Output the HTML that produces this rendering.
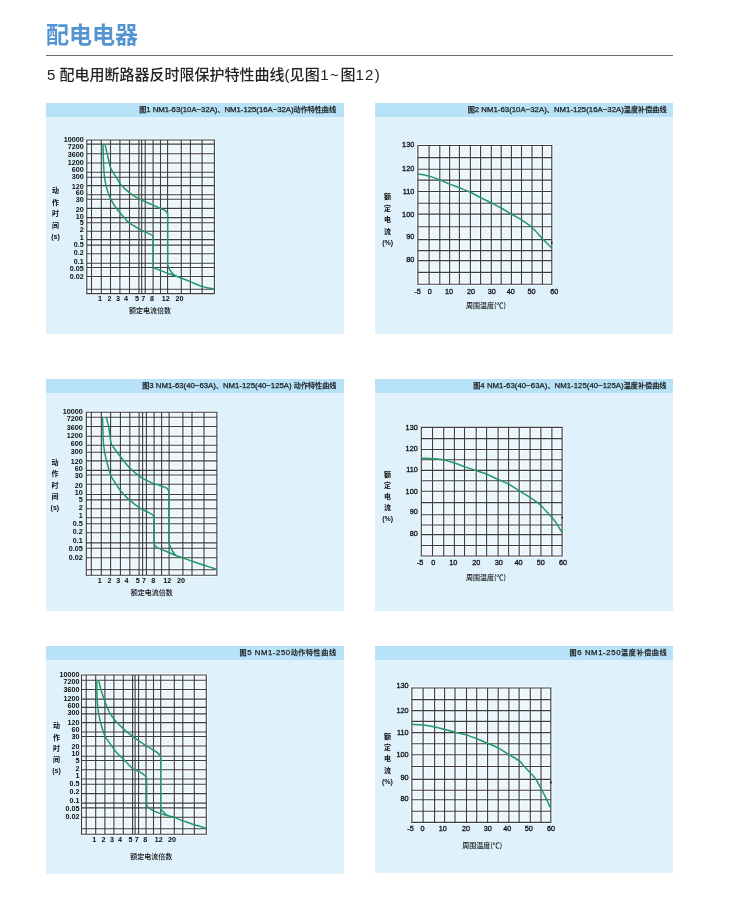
<!DOCTYPE html>
<html lang="zh-CN"><head><meta charset="utf-8"><title>配电电器</title>
<style>
html,body{margin:0;padding:0;background:#fff;}
body{width:750px;height:920px;position:relative;overflow:hidden;font-family:"Liberation Sans","Noto Sans CJK SC",sans-serif;}
.t{position:absolute;white-space:nowrap;line-height:1;}
.pn{position:absolute;background:#dff1fb;}
.hd{position:absolute;left:0;top:0;width:100%;height:14px;background:#b8e2f8;}
.hd i{font-style:normal;font-size:7.1px;}
.hd span{position:absolute;right:8px;top:0;line-height:14px;font-size:7.8px;font-weight:normal;color:#1a1a1a;-webkit-text-stroke:0.25px #1a1a1a;white-space:nowrap;font-family:"Liberation Sans","Noto Sans CJK SC",sans-serif;}
h1{position:absolute;left:46px;top:20px;margin:0;font-size:23px;line-height:30px;font-weight:bold;color:#5394d1;font-family:"Liberation Sans","Noto Sans CJK SC",sans-serif;letter-spacing:0px;}
.rule{position:absolute;left:46px;top:54.7px;width:627px;height:1.6px;background:#6a6a6a;}
.sub{position:absolute;left:47px;top:65px;font-size:15px;line-height:20px;color:#222;font-weight:500;font-family:"Liberation Sans","Noto Sans CJK SC",sans-serif;white-space:nowrap;}
svg{position:absolute;left:0;top:0;}
</style></head><body>
<h1>配电电器</h1>
<div class="rule"></div>
<div class="sub">5 配电用断路器反时限保护特性曲线(<span style="letter-spacing:0.3px">见图</span><span style="letter-spacing:1.6px">1~</span>图<span style="letter-spacing:1.3px">12</span>)</div>

<div class="pn" style="left:46px;top:103px;width:298px;height:231px"><div class="hd"><span style="right:8.03px;letter-spacing:-0.03px"><i>图</i>1 NM1-63(10A−32A)<i>、</i>NM1-125(16A−32A)<i>动作特性曲线</i></span></div></div>
<div class="pn" style="left:375px;top:103px;width:298px;height:231px"><div class="hd"><span style="right:6.48px;letter-spacing:0.02px"><i>图</i>2 NM1-63(10A−32A)<i>、</i>NM1-125(16A−32A)<i>温度补偿曲线</i></span></div></div>
<div class="pn" style="left:46px;top:379px;width:298px;height:232px"><div class="hd"><span style="right:7.6px;letter-spacing:0px"><i>图</i>3 NM1-63(40−63A)<i>、</i>NM1-125(40−125A) <i>动作特性曲线</i></span></div></div>
<div class="pn" style="left:375px;top:379px;width:298px;height:232px"><div class="hd"><span style="right:6.57px;letter-spacing:0.03px"><i>图</i>4 NM1-63(40−63A)<i>、</i>NM1-125(40−125A)<i>温度补偿曲线</i></span></div></div>
<div class="pn" style="left:46px;top:646px;width:298px;height:228px"><div class="hd"><span style="right:7.45px;letter-spacing:0.55px"><i>图</i>5 NM1-250<i>动作特性曲线</i></span></div></div>
<div class="pn" style="left:375px;top:646px;width:298px;height:227px"><div class="hd"><span style="right:5.81px;letter-spacing:0.59px"><i>图</i>6 NM1-250<i>温度补偿曲线</i></span></div></div>
<svg width="750" height="920" viewBox="0 0 750 920">
<rect x="86.8" y="140" width="127.6" height="153.6" fill="#eaf6fc"/>
<path d="M86.8 140V293.6M91.5 140V293.6M101.3 140V293.6M110.5 140V293.6M119.9 140V293.6M129.5 140V293.6M138.9 140V293.6M141.7 140V293.6M145.2 140V293.6M153.1 140V293.6M160.5 140V293.6M167.6 140V293.6M181.3 140V293.6M190.4 140V293.6M202.1 140V293.6M214.4 140V293.6M86.8 140H214.4M86.8 144.1H214.4M86.8 153.7H214.4M86.8 163H214.4M86.8 172.2H214.4M86.8 177.2H214.4M86.8 185.6H214.4M86.8 194.8H214.4M86.8 199.3H214.4M86.8 208.4H214.4M86.8 217.6H214.4M86.8 222.8H214.4M86.8 231.3H214.4M86.8 239.6H214.4M86.8 245.1H214.4M86.8 253.7H214.4M86.8 263.3H214.4M86.8 267.5H214.4M86.8 276.5H214.4M86.8 289.2H214.4M86.8 293.6H214.4" stroke="#ffffff" stroke-width="3.4" opacity="0.75" fill="none"/>
<path d="M86.8 140V293.6M91.5 140V293.6M101.3 140V293.6M110.5 140V293.6M119.9 140V293.6M129.5 140V293.6M138.9 140V293.6M141.7 140V293.6M145.2 140V293.6M153.1 140V293.6M160.5 140V293.6M167.6 140V293.6M181.3 140V293.6M190.4 140V293.6M202.1 140V293.6M214.4 140V293.6M86.8 140H214.4M86.8 144.1H214.4M86.8 153.7H214.4M86.8 163H214.4M86.8 172.2H214.4M86.8 177.2H214.4M86.8 185.6H214.4M86.8 194.8H214.4M86.8 199.3H214.4M86.8 208.4H214.4M86.8 217.6H214.4M86.8 222.8H214.4M86.8 231.3H214.4M86.8 239.6H214.4M86.8 245.1H214.4M86.8 253.7H214.4M86.8 263.3H214.4M86.8 267.5H214.4M86.8 276.5H214.4M86.8 289.2H214.4M86.8 293.6H214.4" stroke="#3a3d41" stroke-width="1.12" fill="none" stroke-linecap="square"/>
<path d="M103 144.5 C103.07 147.08 103.23 155.42 103.4 160 C103.57 164.58 103.72 168.5 104 172 C104.28 175.5 104.65 178.33 105.1 181 C105.55 183.67 105.88 185.23 106.7 188 C107.52 190.77 108.4 194.22 110 197.6 C111.6 200.98 113.73 204.73 116.3 208.3 C118.87 211.87 123.25 216.58 125.4 219 C127.55 221.42 126.43 220.92 129.2 222.8 C131.97 224.68 138.27 228.27 142 230.3 C145.73 232.33 149.73 233.75 151.6 235 C153.47 236.25 152.93 237.33 153.2 237.8 L153.2 266.3 C153.4 266.62 153.6 267.67 154.4 268.2 C155.2 268.73 155.45 268.53 158 269.5 C160.55 270.47 166.15 272.72 169.7 274 C173.25 275.28 175.92 275.93 179.3 277.2 C182.68 278.47 186.22 280.07 190 281.6 C193.78 283.13 198.93 285.33 202 286.4 C205.07 287.47 206.47 287.6 208.4 288 C210.33 288.4 212.73 288.67 213.6 288.8 M105.1 144.5 C105.73 147.3 107.92 157.25 108.9 161.3 C109.88 165.35 109.77 166.13 111 168.8 C112.23 171.47 114.63 174.63 116.3 177.3 C117.97 179.97 118.68 182.13 121 184.8 C123.32 187.47 127.07 190.9 130.2 193.3 C133.33 195.7 136.42 197.42 139.8 199.2 C143.18 200.98 147.13 202.48 150.5 204 C153.87 205.52 157.53 207.2 160 208.3 C162.47 209.4 164.03 209.73 165.3 210.6 C166.57 211.47 167.22 213.02 167.6 213.5 L167.6 264.4 C167.83 265.08 168.38 267.23 169 268.5 C169.62 269.77 170.42 270.88 171.3 272 C172.18 273.12 173.13 274.38 174.3 275.2 C175.47 276.02 177.63 276.62 178.3 276.9" stroke="#229868" stroke-width="1.5" fill="none" stroke-linejoin="round"/>
<text x="83.8" y="139.5" font-size="7.2" text-anchor="end" font-weight="bold" fill="#0d0d0d" font-family='"Liberation Sans","Noto Sans CJK SC",sans-serif' dominant-baseline="central">10000</text>
<text x="83.8" y="146.2" font-size="7.2" text-anchor="end" font-weight="bold" fill="#0d0d0d" font-family='"Liberation Sans","Noto Sans CJK SC",sans-serif' dominant-baseline="central">7200</text>
<text x="83.8" y="154" font-size="7.2" text-anchor="end" font-weight="bold" fill="#0d0d0d" font-family='"Liberation Sans","Noto Sans CJK SC",sans-serif' dominant-baseline="central">3600</text>
<text x="83.8" y="162.4" font-size="7.2" text-anchor="end" font-weight="bold" fill="#0d0d0d" font-family='"Liberation Sans","Noto Sans CJK SC",sans-serif' dominant-baseline="central">1200</text>
<text x="83.8" y="169.8" font-size="7.2" text-anchor="end" font-weight="bold" fill="#0d0d0d" font-family='"Liberation Sans","Noto Sans CJK SC",sans-serif' dominant-baseline="central">600</text>
<text x="83.8" y="176.6" font-size="7.2" text-anchor="end" font-weight="bold" fill="#0d0d0d" font-family='"Liberation Sans","Noto Sans CJK SC",sans-serif' dominant-baseline="central">300</text>
<text x="83.8" y="186.3" font-size="7.2" text-anchor="end" font-weight="bold" fill="#0d0d0d" font-family='"Liberation Sans","Noto Sans CJK SC",sans-serif' dominant-baseline="central">120</text>
<text x="83.8" y="192.8" font-size="7.2" text-anchor="end" font-weight="bold" fill="#0d0d0d" font-family='"Liberation Sans","Noto Sans CJK SC",sans-serif' dominant-baseline="central">60</text>
<text x="83.8" y="199.5" font-size="7.2" text-anchor="end" font-weight="bold" fill="#0d0d0d" font-family='"Liberation Sans","Noto Sans CJK SC",sans-serif' dominant-baseline="central">30</text>
<text x="83.8" y="209" font-size="7.2" text-anchor="end" font-weight="bold" fill="#0d0d0d" font-family='"Liberation Sans","Noto Sans CJK SC",sans-serif' dominant-baseline="central">20</text>
<text x="83.8" y="216.1" font-size="7.2" text-anchor="end" font-weight="bold" fill="#0d0d0d" font-family='"Liberation Sans","Noto Sans CJK SC",sans-serif' dominant-baseline="central">10</text>
<text x="83.8" y="222.3" font-size="7.2" text-anchor="end" font-weight="bold" fill="#0d0d0d" font-family='"Liberation Sans","Noto Sans CJK SC",sans-serif' dominant-baseline="central">5</text>
<text x="83.8" y="229.8" font-size="7.2" text-anchor="end" font-weight="bold" fill="#0d0d0d" font-family='"Liberation Sans","Noto Sans CJK SC",sans-serif' dominant-baseline="central">2</text>
<text x="83.8" y="237.1" font-size="7.2" text-anchor="end" font-weight="bold" fill="#0d0d0d" font-family='"Liberation Sans","Noto Sans CJK SC",sans-serif' dominant-baseline="central">1</text>
<text x="83.8" y="244.7" font-size="7.2" text-anchor="end" font-weight="bold" fill="#0d0d0d" font-family='"Liberation Sans","Noto Sans CJK SC",sans-serif' dominant-baseline="central">0.5</text>
<text x="83.8" y="252.4" font-size="7.2" text-anchor="end" font-weight="bold" fill="#0d0d0d" font-family='"Liberation Sans","Noto Sans CJK SC",sans-serif' dominant-baseline="central">0.2</text>
<text x="83.8" y="261.1" font-size="7.2" text-anchor="end" font-weight="bold" fill="#0d0d0d" font-family='"Liberation Sans","Noto Sans CJK SC",sans-serif' dominant-baseline="central">0.1</text>
<text x="83.8" y="268.6" font-size="7.2" text-anchor="end" font-weight="bold" fill="#0d0d0d" font-family='"Liberation Sans","Noto Sans CJK SC",sans-serif' dominant-baseline="central">0.05</text>
<text x="83.8" y="276.5" font-size="7.2" text-anchor="end" font-weight="bold" fill="#0d0d0d" font-family='"Liberation Sans","Noto Sans CJK SC",sans-serif' dominant-baseline="central">0.02</text>
<text x="99.9" y="298.6" font-size="7.2" text-anchor="middle" font-weight="bold" fill="#0d0d0d" font-family='"Liberation Sans","Noto Sans CJK SC",sans-serif' dominant-baseline="central">1</text>
<text x="109.4" y="298.6" font-size="7.2" text-anchor="middle" font-weight="bold" fill="#0d0d0d" font-family='"Liberation Sans","Noto Sans CJK SC",sans-serif' dominant-baseline="central">2</text>
<text x="118.1" y="298.6" font-size="7.2" text-anchor="middle" font-weight="bold" fill="#0d0d0d" font-family='"Liberation Sans","Noto Sans CJK SC",sans-serif' dominant-baseline="central">3</text>
<text x="126.1" y="298.6" font-size="7.2" text-anchor="middle" font-weight="bold" fill="#0d0d0d" font-family='"Liberation Sans","Noto Sans CJK SC",sans-serif' dominant-baseline="central">4</text>
<text x="137" y="298.6" font-size="7.2" text-anchor="middle" font-weight="bold" fill="#0d0d0d" font-family='"Liberation Sans","Noto Sans CJK SC",sans-serif' dominant-baseline="central">5</text>
<text x="143.2" y="298.6" font-size="7.2" text-anchor="middle" font-weight="bold" fill="#0d0d0d" font-family='"Liberation Sans","Noto Sans CJK SC",sans-serif' dominant-baseline="central">7</text>
<text x="152.1" y="298.6" font-size="7.2" text-anchor="middle" font-weight="bold" fill="#0d0d0d" font-family='"Liberation Sans","Noto Sans CJK SC",sans-serif' dominant-baseline="central">8</text>
<text x="165.8" y="298.6" font-size="7.2" text-anchor="middle" font-weight="bold" fill="#0d0d0d" font-family='"Liberation Sans","Noto Sans CJK SC",sans-serif' dominant-baseline="central">12</text>
<text x="179.4" y="298.6" font-size="7.2" text-anchor="middle" font-weight="bold" fill="#0d0d0d" font-family='"Liberation Sans","Noto Sans CJK SC",sans-serif' dominant-baseline="central">20</text>
<text x="55.5" y="190.4" font-size="7" text-anchor="middle" font-weight="bold" fill="#0d0d0d" font-family='"Noto Sans CJK SC","Liberation Sans",sans-serif' dominant-baseline="central">动</text>
<text x="55.5" y="201.85" font-size="7" text-anchor="middle" font-weight="bold" fill="#0d0d0d" font-family='"Noto Sans CJK SC","Liberation Sans",sans-serif' dominant-baseline="central">作</text>
<text x="55.5" y="213.3" font-size="7" text-anchor="middle" font-weight="bold" fill="#0d0d0d" font-family='"Noto Sans CJK SC","Liberation Sans",sans-serif' dominant-baseline="central">时</text>
<text x="55.5" y="224.75" font-size="7" text-anchor="middle" font-weight="bold" fill="#0d0d0d" font-family='"Noto Sans CJK SC","Liberation Sans",sans-serif' dominant-baseline="central">间</text>
<text x="55.5" y="236.2" font-size="7" text-anchor="middle" font-weight="bold" fill="#0d0d0d" font-family='"Liberation Sans","Noto Sans CJK SC",sans-serif' dominant-baseline="central">(s)</text>
<text x="150" y="310.3" font-size="7" text-anchor="middle" font-weight="500" fill="#0d0d0d" font-family='"Noto Sans CJK SC","Liberation Sans",sans-serif' dominant-baseline="central">额定电流倍数</text>
<rect x="86.3" y="412.2" width="130.6" height="163" fill="#eaf6fc"/>
<path d="M86.3 412.2V575.2M91.3 412.2V575.2M101.3 412.2V575.2M110.6 412.2V575.2M120.4 412.2V575.2M129.8 412.2V575.2M139.1 412.2V575.2M142.6 412.2V575.2M146.4 412.2V575.2M154.1 412.2V575.2M161.6 412.2V575.2M169.1 412.2V575.2M182.9 412.2V575.2M192 412.2V575.2M204 412.2V575.2M216.9 412.2V575.2M86.3 412.2H216.9M86.3 417.2H216.9M86.3 426.5H216.9M86.3 436.3H216.9M86.3 445.2H216.9M86.3 452.2H216.9M86.3 460.9H216.9M86.3 470.4H216.9M86.3 475H216.9M86.3 484.3H216.9M86.3 494.5H216.9M86.3 499.9H216.9M86.3 508.8H216.9M86.3 517.8H216.9M86.3 523.8H216.9M86.3 532.7H216.9M86.3 542.9H216.9M86.3 548.3H216.9M86.3 557.8H216.9M86.3 569.8H216.9M86.3 575.2H216.9" stroke="#ffffff" stroke-width="3.4" opacity="0.75" fill="none"/>
<path d="M86.3 412.2V575.2M91.3 412.2V575.2M101.3 412.2V575.2M110.6 412.2V575.2M120.4 412.2V575.2M129.8 412.2V575.2M139.1 412.2V575.2M142.6 412.2V575.2M146.4 412.2V575.2M154.1 412.2V575.2M161.6 412.2V575.2M169.1 412.2V575.2M182.9 412.2V575.2M192 412.2V575.2M204 412.2V575.2M216.9 412.2V575.2M86.3 412.2H216.9M86.3 417.2H216.9M86.3 426.5H216.9M86.3 436.3H216.9M86.3 445.2H216.9M86.3 452.2H216.9M86.3 460.9H216.9M86.3 470.4H216.9M86.3 475H216.9M86.3 484.3H216.9M86.3 494.5H216.9M86.3 499.9H216.9M86.3 508.8H216.9M86.3 517.8H216.9M86.3 523.8H216.9M86.3 532.7H216.9M86.3 542.9H216.9M86.3 548.3H216.9M86.3 557.8H216.9M86.3 569.8H216.9M86.3 575.2H216.9" stroke="#3a3d41" stroke-width="1.12" fill="none" stroke-linecap="square"/>
<path d="M102.5 417.2 C102.58 419.88 102.83 428.83 103 433.3 C103.17 437.77 103.15 440.43 103.5 444 C103.85 447.57 104.38 451.15 105.1 454.7 C105.82 458.25 106.82 461.75 107.8 465.3 C108.78 468.85 109.58 472.8 111 476 C112.42 479.2 114.6 481.93 116.3 484.5 C118 487.07 118.93 488.75 121.2 491.4 C123.47 494.05 126.68 497.57 129.9 500.4 C133.12 503.23 137.3 506.35 140.5 508.4 C143.7 510.45 147.05 511.6 149.1 512.7 C151.15 513.8 152 514.12 152.8 515 C153.6 515.88 153.72 517.5 153.9 518 L153.9 543.6 C154.13 544 154.68 545.3 155.3 546 C155.92 546.7 156.65 547.27 157.6 547.8 C158.55 548.33 159.1 548.42 161 549.2 C162.9 549.98 166.67 551.48 169 552.5 C171.33 553.52 172.83 554.45 175 555.3 C177.17 556.15 179 556.57 182 557.6 C185 558.63 189.17 560.18 193 561.5 C196.83 562.82 201.08 564.2 205 565.5 C208.92 566.8 214.58 568.67 216.5 569.3 M106.2 417.2 C106.65 419 108.1 423.72 108.9 428 C109.7 432.28 110.12 439.52 111 442.9 C111.88 446.28 112.6 445.98 114.2 448.3 C115.8 450.62 117.93 453.43 120.6 456.8 C123.27 460.17 126.77 465.08 130.2 468.5 C133.63 471.92 137.68 474.95 141.2 477.3 C144.72 479.65 148.02 481.18 151.3 482.6 C154.58 484.02 158.33 484.88 160.9 485.8 C163.47 486.72 165.37 487.18 166.7 488.1 C168.03 489.02 168.53 490.77 168.9 491.3 L168.9 542.8 C169.17 543.5 169.9 545.63 170.5 547 C171.1 548.37 171.75 549.75 172.5 551 C173.25 552.25 174.08 553.57 175 554.5 C175.92 555.43 176.83 556.08 178 556.6 C179.17 557.12 181.33 557.43 182 557.6 " stroke="#229868" stroke-width="1.5" fill="none" stroke-linejoin="round"/>
<text x="82.8" y="411.67" font-size="7.2" text-anchor="end" font-weight="bold" fill="#0d0d0d" font-family='"Liberation Sans","Noto Sans CJK SC",sans-serif' dominant-baseline="central">10000</text>
<text x="82.8" y="418.78" font-size="7.2" text-anchor="end" font-weight="bold" fill="#0d0d0d" font-family='"Liberation Sans","Noto Sans CJK SC",sans-serif' dominant-baseline="central">7200</text>
<text x="82.8" y="427.06" font-size="7.2" text-anchor="end" font-weight="bold" fill="#0d0d0d" font-family='"Liberation Sans","Noto Sans CJK SC",sans-serif' dominant-baseline="central">3600</text>
<text x="82.8" y="435.97" font-size="7.2" text-anchor="end" font-weight="bold" fill="#0d0d0d" font-family='"Liberation Sans","Noto Sans CJK SC",sans-serif' dominant-baseline="central">1200</text>
<text x="82.8" y="443.82" font-size="7.2" text-anchor="end" font-weight="bold" fill="#0d0d0d" font-family='"Liberation Sans","Noto Sans CJK SC",sans-serif' dominant-baseline="central">600</text>
<text x="82.8" y="451.04" font-size="7.2" text-anchor="end" font-weight="bold" fill="#0d0d0d" font-family='"Liberation Sans","Noto Sans CJK SC",sans-serif' dominant-baseline="central">300</text>
<text x="82.8" y="461.33" font-size="7.2" text-anchor="end" font-weight="bold" fill="#0d0d0d" font-family='"Liberation Sans","Noto Sans CJK SC",sans-serif' dominant-baseline="central">120</text>
<text x="82.8" y="468.23" font-size="7.2" text-anchor="end" font-weight="bold" fill="#0d0d0d" font-family='"Liberation Sans","Noto Sans CJK SC",sans-serif' dominant-baseline="central">60</text>
<text x="82.8" y="475.34" font-size="7.2" text-anchor="end" font-weight="bold" fill="#0d0d0d" font-family='"Liberation Sans","Noto Sans CJK SC",sans-serif' dominant-baseline="central">30</text>
<text x="82.8" y="485.42" font-size="7.2" text-anchor="end" font-weight="bold" fill="#0d0d0d" font-family='"Liberation Sans","Noto Sans CJK SC",sans-serif' dominant-baseline="central">20</text>
<text x="82.8" y="492.96" font-size="7.2" text-anchor="end" font-weight="bold" fill="#0d0d0d" font-family='"Liberation Sans","Noto Sans CJK SC",sans-serif' dominant-baseline="central">10</text>
<text x="82.8" y="499.54" font-size="7.2" text-anchor="end" font-weight="bold" fill="#0d0d0d" font-family='"Liberation Sans","Noto Sans CJK SC",sans-serif' dominant-baseline="central">5</text>
<text x="82.8" y="507.5" font-size="7.2" text-anchor="end" font-weight="bold" fill="#0d0d0d" font-family='"Liberation Sans","Noto Sans CJK SC",sans-serif' dominant-baseline="central">2</text>
<text x="82.8" y="515.24" font-size="7.2" text-anchor="end" font-weight="bold" fill="#0d0d0d" font-family='"Liberation Sans","Noto Sans CJK SC",sans-serif' dominant-baseline="central">1</text>
<text x="82.8" y="523.31" font-size="7.2" text-anchor="end" font-weight="bold" fill="#0d0d0d" font-family='"Liberation Sans","Noto Sans CJK SC",sans-serif' dominant-baseline="central">0.5</text>
<text x="82.8" y="531.48" font-size="7.2" text-anchor="end" font-weight="bold" fill="#0d0d0d" font-family='"Liberation Sans","Noto Sans CJK SC",sans-serif' dominant-baseline="central">0.2</text>
<text x="82.8" y="540.71" font-size="7.2" text-anchor="end" font-weight="bold" fill="#0d0d0d" font-family='"Liberation Sans","Noto Sans CJK SC",sans-serif' dominant-baseline="central">0.1</text>
<text x="82.8" y="548.67" font-size="7.2" text-anchor="end" font-weight="bold" fill="#0d0d0d" font-family='"Liberation Sans","Noto Sans CJK SC",sans-serif' dominant-baseline="central">0.05</text>
<text x="82.8" y="557.05" font-size="7.2" text-anchor="end" font-weight="bold" fill="#0d0d0d" font-family='"Liberation Sans","Noto Sans CJK SC",sans-serif' dominant-baseline="central">0.02</text>
<text x="99.71" y="580.2" font-size="7.2" text-anchor="middle" font-weight="bold" fill="#0d0d0d" font-family='"Liberation Sans","Noto Sans CJK SC",sans-serif' dominant-baseline="central">1</text>
<text x="109.43" y="580.2" font-size="7.2" text-anchor="middle" font-weight="bold" fill="#0d0d0d" font-family='"Liberation Sans","Noto Sans CJK SC",sans-serif' dominant-baseline="central">2</text>
<text x="118.34" y="580.2" font-size="7.2" text-anchor="middle" font-weight="bold" fill="#0d0d0d" font-family='"Liberation Sans","Noto Sans CJK SC",sans-serif' dominant-baseline="central">3</text>
<text x="126.52" y="580.2" font-size="7.2" text-anchor="middle" font-weight="bold" fill="#0d0d0d" font-family='"Liberation Sans","Noto Sans CJK SC",sans-serif' dominant-baseline="central">4</text>
<text x="137.68" y="580.2" font-size="7.2" text-anchor="middle" font-weight="bold" fill="#0d0d0d" font-family='"Liberation Sans","Noto Sans CJK SC",sans-serif' dominant-baseline="central">5</text>
<text x="144.03" y="580.2" font-size="7.2" text-anchor="middle" font-weight="bold" fill="#0d0d0d" font-family='"Liberation Sans","Noto Sans CJK SC",sans-serif' dominant-baseline="central">7</text>
<text x="153.14" y="580.2" font-size="7.2" text-anchor="middle" font-weight="bold" fill="#0d0d0d" font-family='"Liberation Sans","Noto Sans CJK SC",sans-serif' dominant-baseline="central">8</text>
<text x="167.16" y="580.2" font-size="7.2" text-anchor="middle" font-weight="bold" fill="#0d0d0d" font-family='"Liberation Sans","Noto Sans CJK SC",sans-serif' dominant-baseline="central">12</text>
<text x="181.08" y="580.2" font-size="7.2" text-anchor="middle" font-weight="bold" fill="#0d0d0d" font-family='"Liberation Sans","Noto Sans CJK SC",sans-serif' dominant-baseline="central">20</text>
<text x="54.9" y="461.8" font-size="7" text-anchor="middle" font-weight="bold" fill="#0d0d0d" font-family='"Noto Sans CJK SC","Liberation Sans",sans-serif' dominant-baseline="central">动</text>
<text x="54.9" y="473.25" font-size="7" text-anchor="middle" font-weight="bold" fill="#0d0d0d" font-family='"Noto Sans CJK SC","Liberation Sans",sans-serif' dominant-baseline="central">作</text>
<text x="54.9" y="484.7" font-size="7" text-anchor="middle" font-weight="bold" fill="#0d0d0d" font-family='"Noto Sans CJK SC","Liberation Sans",sans-serif' dominant-baseline="central">时</text>
<text x="54.9" y="496.15" font-size="7" text-anchor="middle" font-weight="bold" fill="#0d0d0d" font-family='"Noto Sans CJK SC","Liberation Sans",sans-serif' dominant-baseline="central">间</text>
<text x="54.9" y="507.6" font-size="7" text-anchor="middle" font-weight="bold" fill="#0d0d0d" font-family='"Liberation Sans","Noto Sans CJK SC",sans-serif' dominant-baseline="central">(s)</text>
<text x="151.8" y="592.2" font-size="7" text-anchor="middle" font-weight="500" fill="#0d0d0d" font-family='"Noto Sans CJK SC","Liberation Sans",sans-serif' dominant-baseline="central">额定电流倍数</text>
<rect x="81.5" y="675" width="124.8" height="159.2" fill="#eaf6fc"/>
<path d="M81.5 675V834.2M86.2 675V834.2M95.7 675V834.2M104.9 675V834.2M113.9 675V834.2M123.3 675V834.2M132.6 675V834.2M135.1 675V834.2M138.6 675V834.2M146 675V834.2M153.5 675V834.2M160.7 675V834.2M174.3 675V834.2M182.8 675V834.2M194.3 675V834.2M206.3 675V834.2M81.5 675H206.3M81.5 680.2H206.3M81.5 689.5H206.3M81.5 699.1H206.3M81.5 707.4H206.3M81.5 713.9H206.3M81.5 722.6H206.3M81.5 732H206.3M81.5 736.5H206.3M81.5 746H206.3M81.5 756.3H206.3M81.5 760.5H206.3M81.5 769.7H206.3M81.5 779H206.3M81.5 784.2H206.3M81.5 793.6H206.3M81.5 803.1H206.3M81.5 807.9H206.3M81.5 817.2H206.3M81.5 828.8H206.3M81.5 834.2H206.3" stroke="#ffffff" stroke-width="3.4" opacity="0.75" fill="none"/>
<path d="M81.5 675V834.2M86.2 675V834.2M95.7 675V834.2M104.9 675V834.2M113.9 675V834.2M123.3 675V834.2M132.6 675V834.2M135.1 675V834.2M138.6 675V834.2M146 675V834.2M153.5 675V834.2M160.7 675V834.2M174.3 675V834.2M182.8 675V834.2M194.3 675V834.2M206.3 675V834.2M81.5 675H206.3M81.5 680.2H206.3M81.5 689.5H206.3M81.5 699.1H206.3M81.5 707.4H206.3M81.5 713.9H206.3M81.5 722.6H206.3M81.5 732H206.3M81.5 736.5H206.3M81.5 746H206.3M81.5 756.3H206.3M81.5 760.5H206.3M81.5 769.7H206.3M81.5 779H206.3M81.5 784.2H206.3M81.5 793.6H206.3M81.5 803.1H206.3M81.5 807.9H206.3M81.5 817.2H206.3M81.5 828.8H206.3M81.5 834.2H206.3" stroke="#3a3d41" stroke-width="1.12" fill="none" stroke-linecap="square"/>
<path d="M96.8 680.3 C96.85 683.4 96.83 693.62 97.1 698.9 C97.37 704.18 97.8 707.98 98.4 712 C99 716.02 99.62 719.03 100.7 723 C101.78 726.97 103.13 732.07 104.9 735.8 C106.67 739.53 109.28 742.53 111.3 745.4 C113.32 748.27 115.03 750.75 117 753 C118.97 755.25 120.48 756.32 123.1 758.9 C125.72 761.48 129.85 766.28 132.7 768.5 C135.55 770.72 138.12 770.95 140.2 772.2 C142.28 773.45 144.13 774.95 145.2 776 C146.27 777.05 146.37 778.08 146.6 778.5 L146.6 803.7 C146.77 804.18 147.05 805.78 147.6 806.6 C148.15 807.42 148.65 807.77 149.9 808.6 C151.15 809.43 152.95 810.63 155.1 811.6 C157.25 812.57 160.48 813.68 162.8 814.4 C165.12 815.12 167.08 815.42 169 815.9 C170.92 816.38 171.98 816.48 174.3 817.3 C176.62 818.12 179.58 819.57 182.9 820.8 C186.22 822.03 190.37 823.48 194.2 824.7 C198.03 825.92 203.95 827.53 205.9 828.1 M98.7 680.3 C99.05 681.8 99.92 686.2 100.8 689.3 C101.68 692.4 103.07 696.2 104 698.9 C104.93 701.6 105.52 703.32 106.4 705.5 C107.28 707.68 107.95 709.62 109.3 712 C110.65 714.38 112.03 716.9 114.5 719.8 C116.97 722.7 120.72 726.38 124.1 729.4 C127.48 732.42 131.23 735.23 134.8 737.9 C138.37 740.57 142.47 743.42 145.5 745.4 C148.53 747.38 150.87 748.47 153 749.8 C155.13 751.13 157.02 752.23 158.3 753.4 C159.58 754.57 160.3 756.23 160.7 756.8 L160.7 808.6 C160.85 808.87 161.15 809.65 161.6 810.2 C162.05 810.75 162.67 811.18 163.4 811.9 C164.13 812.62 164.92 813.77 166 814.5 C167.08 815.23 168.65 815.85 169.9 816.3 C171.15 816.75 172.9 817.05 173.5 817.2 " stroke="#229868" stroke-width="1.5" fill="none" stroke-linejoin="round"/>
<text x="79.4" y="674.48" font-size="7.2" text-anchor="end" font-weight="bold" fill="#0d0d0d" font-family='"Liberation Sans","Noto Sans CJK SC",sans-serif' dominant-baseline="central">10000</text>
<text x="79.4" y="681.43" font-size="7.2" text-anchor="end" font-weight="bold" fill="#0d0d0d" font-family='"Liberation Sans","Noto Sans CJK SC",sans-serif' dominant-baseline="central">7200</text>
<text x="79.4" y="689.51" font-size="7.2" text-anchor="end" font-weight="bold" fill="#0d0d0d" font-family='"Liberation Sans","Noto Sans CJK SC",sans-serif' dominant-baseline="central">3600</text>
<text x="79.4" y="698.22" font-size="7.2" text-anchor="end" font-weight="bold" fill="#0d0d0d" font-family='"Liberation Sans","Noto Sans CJK SC",sans-serif' dominant-baseline="central">1200</text>
<text x="79.4" y="705.89" font-size="7.2" text-anchor="end" font-weight="bold" fill="#0d0d0d" font-family='"Liberation Sans","Noto Sans CJK SC",sans-serif' dominant-baseline="central">600</text>
<text x="79.4" y="712.93" font-size="7.2" text-anchor="end" font-weight="bold" fill="#0d0d0d" font-family='"Liberation Sans","Noto Sans CJK SC",sans-serif' dominant-baseline="central">300</text>
<text x="79.4" y="722.99" font-size="7.2" text-anchor="end" font-weight="bold" fill="#0d0d0d" font-family='"Liberation Sans","Noto Sans CJK SC",sans-serif' dominant-baseline="central">120</text>
<text x="79.4" y="729.73" font-size="7.2" text-anchor="end" font-weight="bold" fill="#0d0d0d" font-family='"Liberation Sans","Noto Sans CJK SC",sans-serif' dominant-baseline="central">60</text>
<text x="79.4" y="736.67" font-size="7.2" text-anchor="end" font-weight="bold" fill="#0d0d0d" font-family='"Liberation Sans","Noto Sans CJK SC",sans-serif' dominant-baseline="central">30</text>
<text x="79.4" y="746.52" font-size="7.2" text-anchor="end" font-weight="bold" fill="#0d0d0d" font-family='"Liberation Sans","Noto Sans CJK SC",sans-serif' dominant-baseline="central">20</text>
<text x="79.4" y="753.87" font-size="7.2" text-anchor="end" font-weight="bold" fill="#0d0d0d" font-family='"Liberation Sans","Noto Sans CJK SC",sans-serif' dominant-baseline="central">10</text>
<text x="79.4" y="760.3" font-size="7.2" text-anchor="end" font-weight="bold" fill="#0d0d0d" font-family='"Liberation Sans","Noto Sans CJK SC",sans-serif' dominant-baseline="central">5</text>
<text x="79.4" y="768.07" font-size="7.2" text-anchor="end" font-weight="bold" fill="#0d0d0d" font-family='"Liberation Sans","Noto Sans CJK SC",sans-serif' dominant-baseline="central">2</text>
<text x="79.4" y="775.64" font-size="7.2" text-anchor="end" font-weight="bold" fill="#0d0d0d" font-family='"Liberation Sans","Noto Sans CJK SC",sans-serif' dominant-baseline="central">1</text>
<text x="79.4" y="783.52" font-size="7.2" text-anchor="end" font-weight="bold" fill="#0d0d0d" font-family='"Liberation Sans","Noto Sans CJK SC",sans-serif' dominant-baseline="central">0.5</text>
<text x="79.4" y="791.5" font-size="7.2" text-anchor="end" font-weight="bold" fill="#0d0d0d" font-family='"Liberation Sans","Noto Sans CJK SC",sans-serif' dominant-baseline="central">0.2</text>
<text x="79.4" y="800.52" font-size="7.2" text-anchor="end" font-weight="bold" fill="#0d0d0d" font-family='"Liberation Sans","Noto Sans CJK SC",sans-serif' dominant-baseline="central">0.1</text>
<text x="79.4" y="808.29" font-size="7.2" text-anchor="end" font-weight="bold" fill="#0d0d0d" font-family='"Liberation Sans","Noto Sans CJK SC",sans-serif' dominant-baseline="central">0.05</text>
<text x="79.4" y="816.48" font-size="7.2" text-anchor="end" font-weight="bold" fill="#0d0d0d" font-family='"Liberation Sans","Noto Sans CJK SC",sans-serif' dominant-baseline="central">0.02</text>
<text x="94.31" y="839.2" font-size="7.2" text-anchor="middle" font-weight="bold" fill="#0d0d0d" font-family='"Liberation Sans","Noto Sans CJK SC",sans-serif' dominant-baseline="central">1</text>
<text x="103.6" y="839.2" font-size="7.2" text-anchor="middle" font-weight="bold" fill="#0d0d0d" font-family='"Liberation Sans","Noto Sans CJK SC",sans-serif' dominant-baseline="central">2</text>
<text x="112.11" y="839.2" font-size="7.2" text-anchor="middle" font-weight="bold" fill="#0d0d0d" font-family='"Liberation Sans","Noto Sans CJK SC",sans-serif' dominant-baseline="central">3</text>
<text x="119.94" y="839.2" font-size="7.2" text-anchor="middle" font-weight="bold" fill="#0d0d0d" font-family='"Liberation Sans","Noto Sans CJK SC",sans-serif' dominant-baseline="central">4</text>
<text x="130.6" y="839.2" font-size="7.2" text-anchor="middle" font-weight="bold" fill="#0d0d0d" font-family='"Liberation Sans","Noto Sans CJK SC",sans-serif' dominant-baseline="central">5</text>
<text x="136.66" y="839.2" font-size="7.2" text-anchor="middle" font-weight="bold" fill="#0d0d0d" font-family='"Liberation Sans","Noto Sans CJK SC",sans-serif' dominant-baseline="central">7</text>
<text x="145.37" y="839.2" font-size="7.2" text-anchor="middle" font-weight="bold" fill="#0d0d0d" font-family='"Liberation Sans","Noto Sans CJK SC",sans-serif' dominant-baseline="central">8</text>
<text x="158.77" y="839.2" font-size="7.2" text-anchor="middle" font-weight="bold" fill="#0d0d0d" font-family='"Liberation Sans","Noto Sans CJK SC",sans-serif' dominant-baseline="central">12</text>
<text x="172.07" y="839.2" font-size="7.2" text-anchor="middle" font-weight="bold" fill="#0d0d0d" font-family='"Liberation Sans","Noto Sans CJK SC",sans-serif' dominant-baseline="central">20</text>
<text x="56.5" y="725.1" font-size="7" text-anchor="middle" font-weight="bold" fill="#0d0d0d" font-family='"Noto Sans CJK SC","Liberation Sans",sans-serif' dominant-baseline="central">动</text>
<text x="56.5" y="736.55" font-size="7" text-anchor="middle" font-weight="bold" fill="#0d0d0d" font-family='"Noto Sans CJK SC","Liberation Sans",sans-serif' dominant-baseline="central">作</text>
<text x="56.5" y="748" font-size="7" text-anchor="middle" font-weight="bold" fill="#0d0d0d" font-family='"Noto Sans CJK SC","Liberation Sans",sans-serif' dominant-baseline="central">时</text>
<text x="56.5" y="759.45" font-size="7" text-anchor="middle" font-weight="bold" fill="#0d0d0d" font-family='"Noto Sans CJK SC","Liberation Sans",sans-serif' dominant-baseline="central">间</text>
<text x="56.5" y="770.9" font-size="7" text-anchor="middle" font-weight="bold" fill="#0d0d0d" font-family='"Liberation Sans","Noto Sans CJK SC",sans-serif' dominant-baseline="central">(s)</text>
<text x="151.2" y="856.2" font-size="7" text-anchor="middle" font-weight="500" fill="#0d0d0d" font-family='"Noto Sans CJK SC","Liberation Sans",sans-serif' dominant-baseline="central">额定电流倍数</text>
<rect x="417.9" y="145.5" width="133.9" height="138.7" fill="#eaf6fc"/>
<path d="M417.9 145.5V284.2M429.1 145.5V284.2M439.8 145.5V284.2M449.6 145.5V284.2M459.4 145.5V284.2M470.4 145.5V284.2M480.6 145.5V284.2M491.3 145.5V284.2M501.2 145.5V284.2M511.4 145.5V284.2M521.5 145.5V284.2M532 145.5V284.2M542.4 145.5V284.2M551.8 145.5V284.2M417.9 145.5H551.8M417.9 157.6H551.8M417.9 169.3H551.8M417.9 180.1H551.8M417.9 191.5H551.8M417.9 203.3H551.8M417.9 214.1H551.8M417.9 226.7H551.8M417.9 239.6H551.8M417.9 250.6H551.8M417.9 260.6H551.8M417.9 272.4H551.8M417.9 284.2H551.8" stroke="#ffffff" stroke-width="3.4" opacity="0.75" fill="none"/>
<path d="M417.9 145.5V284.2M429.1 145.5V284.2M439.8 145.5V284.2M449.6 145.5V284.2M459.4 145.5V284.2M470.4 145.5V284.2M480.6 145.5V284.2M491.3 145.5V284.2M501.2 145.5V284.2M511.4 145.5V284.2M521.5 145.5V284.2M532 145.5V284.2M542.4 145.5V284.2M551.8 145.5V284.2M417.9 145.5H551.8M417.9 157.6H551.8M417.9 169.3H551.8M417.9 180.1H551.8M417.9 191.5H551.8M417.9 203.3H551.8M417.9 214.1H551.8M417.9 226.7H551.8M417.9 239.6H551.8M417.9 250.6H551.8M417.9 260.6H551.8M417.9 272.4H551.8M417.9 284.2H551.8" stroke="#3a3d41" stroke-width="1.12" fill="none" stroke-linecap="square"/>
<path d="M417.9 173.9 C419.77 174.27 425.45 175.12 429.1 176.1 C432.75 177.08 436.38 178.47 439.8 179.8 C443.22 181.13 446.33 182.77 449.6 184.1 C452.87 185.43 455.93 186.43 459.4 187.8 C462.87 189.17 466.87 190.67 470.4 192.3 C473.93 193.93 477.1 195.82 480.6 197.6 C484.1 199.38 487.97 201.27 491.4 203 C494.83 204.73 497.88 206.17 501.2 208 C504.52 209.83 507.95 212.05 511.3 214 C514.65 215.95 517.87 217.48 521.3 219.7 C524.73 221.92 528.37 224.12 531.9 227.3 C535.43 230.48 539.22 235.4 542.5 238.8 C545.78 242.2 550.08 246.22 551.6 247.7" stroke="#229868" stroke-width="1.5" fill="none" stroke-linejoin="round"/>
<text x="414.3" y="144.6" font-size="7.3" text-anchor="end" font-weight="normal" fill="#0d0d0d" font-family='"Liberation Sans","Noto Sans CJK SC",sans-serif' dominant-baseline="central" stroke="#0d0d0d" stroke-width="0.28">130</text>
<text x="414.3" y="168.3" font-size="7.3" text-anchor="end" font-weight="normal" fill="#0d0d0d" font-family='"Liberation Sans","Noto Sans CJK SC",sans-serif' dominant-baseline="central" stroke="#0d0d0d" stroke-width="0.28">120</text>
<text x="414.3" y="191" font-size="7.3" text-anchor="end" font-weight="normal" fill="#0d0d0d" font-family='"Liberation Sans","Noto Sans CJK SC",sans-serif' dominant-baseline="central" stroke="#0d0d0d" stroke-width="0.28">110</text>
<text x="414.3" y="214" font-size="7.3" text-anchor="end" font-weight="normal" fill="#0d0d0d" font-family='"Liberation Sans","Noto Sans CJK SC",sans-serif' dominant-baseline="central" stroke="#0d0d0d" stroke-width="0.28">100</text>
<text x="414.3" y="236.3" font-size="7.3" text-anchor="end" font-weight="normal" fill="#0d0d0d" font-family='"Liberation Sans","Noto Sans CJK SC",sans-serif' dominant-baseline="central" stroke="#0d0d0d" stroke-width="0.28">90</text>
<text x="414.3" y="259.2" font-size="7.3" text-anchor="end" font-weight="normal" fill="#0d0d0d" font-family='"Liberation Sans","Noto Sans CJK SC",sans-serif' dominant-baseline="central" stroke="#0d0d0d" stroke-width="0.28">80</text>
<text x="417.7" y="291" font-size="7.3" text-anchor="middle" font-weight="normal" fill="#0d0d0d" font-family='"Liberation Sans","Noto Sans CJK SC",sans-serif' dominant-baseline="central" stroke="#0d0d0d" stroke-width="0.28">-5</text>
<text x="429.7" y="291" font-size="7.3" text-anchor="middle" font-weight="normal" fill="#0d0d0d" font-family='"Liberation Sans","Noto Sans CJK SC",sans-serif' dominant-baseline="central" stroke="#0d0d0d" stroke-width="0.28">0</text>
<text x="449" y="291" font-size="7.3" text-anchor="middle" font-weight="normal" fill="#0d0d0d" font-family='"Liberation Sans","Noto Sans CJK SC",sans-serif' dominant-baseline="central" stroke="#0d0d0d" stroke-width="0.28">10</text>
<text x="471" y="291" font-size="7.3" text-anchor="middle" font-weight="normal" fill="#0d0d0d" font-family='"Liberation Sans","Noto Sans CJK SC",sans-serif' dominant-baseline="central" stroke="#0d0d0d" stroke-width="0.28">20</text>
<text x="491.8" y="291" font-size="7.3" text-anchor="middle" font-weight="normal" fill="#0d0d0d" font-family='"Liberation Sans","Noto Sans CJK SC",sans-serif' dominant-baseline="central" stroke="#0d0d0d" stroke-width="0.28">30</text>
<text x="510.8" y="291" font-size="7.3" text-anchor="middle" font-weight="normal" fill="#0d0d0d" font-family='"Liberation Sans","Noto Sans CJK SC",sans-serif' dominant-baseline="central" stroke="#0d0d0d" stroke-width="0.28">40</text>
<text x="531.6" y="291" font-size="7.3" text-anchor="middle" font-weight="normal" fill="#0d0d0d" font-family='"Liberation Sans","Noto Sans CJK SC",sans-serif' dominant-baseline="central" stroke="#0d0d0d" stroke-width="0.28">50</text>
<text x="554.2" y="291" font-size="7.3" text-anchor="middle" font-weight="normal" fill="#0d0d0d" font-family='"Liberation Sans","Noto Sans CJK SC",sans-serif' dominant-baseline="central" stroke="#0d0d0d" stroke-width="0.28">60</text>
<text x="387.6" y="196" font-size="7" text-anchor="middle" font-weight="bold" fill="#0d0d0d" font-family='"Noto Sans CJK SC","Liberation Sans",sans-serif' dominant-baseline="central">额</text>
<text x="387.6" y="207.6" font-size="7" text-anchor="middle" font-weight="bold" fill="#0d0d0d" font-family='"Noto Sans CJK SC","Liberation Sans",sans-serif' dominant-baseline="central">定</text>
<text x="387.6" y="219.2" font-size="7" text-anchor="middle" font-weight="bold" fill="#0d0d0d" font-family='"Noto Sans CJK SC","Liberation Sans",sans-serif' dominant-baseline="central">电</text>
<text x="387.6" y="230.8" font-size="7" text-anchor="middle" font-weight="bold" fill="#0d0d0d" font-family='"Noto Sans CJK SC","Liberation Sans",sans-serif' dominant-baseline="central">流</text>
<text x="387.6" y="242.4" font-size="7" text-anchor="middle" font-weight="bold" fill="#0d0d0d" font-family='"Liberation Sans","Noto Sans CJK SC",sans-serif' dominant-baseline="central">(%)</text>
<text x="486" y="305.4" font-size="7" text-anchor="middle" font-weight="500" fill="#0d0d0d" font-family='"Noto Sans CJK SC","Liberation Sans",sans-serif' dominant-baseline="central">周围温度(℃)</text>
<rect x="421.3" y="427.4" width="140.8" height="128.6" fill="#eaf6fc"/>
<path d="M421.3 427.4V556M432.5 427.4V556M443.7 427.4V556M454.4 427.4V556M464.5 427.4V556M476.2 427.4V556M486.6 427.4V556M498.1 427.4V556M508.6 427.4V556M519.2 427.4V556M530.1 427.4V556M540.9 427.4V556M551.9 427.4V556M562.1 427.4V556M421.3 427.4H562.1M421.3 438.6H562.1M421.3 449.5H562.1M421.3 459.7H562.1M421.3 470.4H562.1M421.3 480.8H562.1M421.3 491.3H562.1M421.3 502.6H562.1M421.3 514.7H562.1M421.3 525H562.1M421.3 534.6H562.1M421.3 545.5H562.1M421.3 556H562.1" stroke="#ffffff" stroke-width="3.4" opacity="0.75" fill="none"/>
<path d="M421.3 427.4V556M432.5 427.4V556M443.7 427.4V556M454.4 427.4V556M464.5 427.4V556M476.2 427.4V556M486.6 427.4V556M498.1 427.4V556M508.6 427.4V556M519.2 427.4V556M530.1 427.4V556M540.9 427.4V556M551.9 427.4V556M562.1 427.4V556M421.3 427.4H562.1M421.3 438.6H562.1M421.3 449.5H562.1M421.3 459.7H562.1M421.3 470.4H562.1M421.3 480.8H562.1M421.3 491.3H562.1M421.3 502.6H562.1M421.3 514.7H562.1M421.3 525H562.1M421.3 534.6H562.1M421.3 545.5H562.1M421.3 556H562.1" stroke="#3a3d41" stroke-width="1.12" fill="none" stroke-linecap="square"/>
<path d="M421.3 458.2 C423.17 458.28 428.77 458.43 432.5 458.7 C436.23 458.97 440.05 459.08 443.7 459.8 C447.35 460.52 450.95 461.87 454.4 463 C457.85 464.13 460.77 465.33 464.4 466.6 C468.03 467.87 472.5 469.33 476.2 470.6 C479.9 471.87 482.97 472.73 486.6 474.2 C490.23 475.67 494.37 477.77 498 479.4 C501.63 481.03 504.88 482.12 508.4 484 C511.92 485.88 515.5 488.48 519.1 490.7 C522.7 492.92 527.02 495.37 530 497.3 C532.98 499.23 535.17 500.93 537 502.3 C538.83 503.67 539.5 504.05 541 505.5 C542.5 506.95 544.2 509.03 546 511 C547.8 512.97 550.13 515.35 551.8 517.3 C553.47 519.25 554.3 520.13 556 522.7 C557.7 525.27 561 531.03 562 532.7" stroke="#229868" stroke-width="1.5" fill="none" stroke-linejoin="round"/>
<text x="417.8" y="427.6" font-size="7.3" text-anchor="end" font-weight="normal" fill="#0d0d0d" font-family='"Liberation Sans","Noto Sans CJK SC",sans-serif' dominant-baseline="central" stroke="#0d0d0d" stroke-width="0.28">130</text>
<text x="417.8" y="448.6" font-size="7.3" text-anchor="end" font-weight="normal" fill="#0d0d0d" font-family='"Liberation Sans","Noto Sans CJK SC",sans-serif' dominant-baseline="central" stroke="#0d0d0d" stroke-width="0.28">120</text>
<text x="417.8" y="469.2" font-size="7.3" text-anchor="end" font-weight="normal" fill="#0d0d0d" font-family='"Liberation Sans","Noto Sans CJK SC",sans-serif' dominant-baseline="central" stroke="#0d0d0d" stroke-width="0.28">110</text>
<text x="417.8" y="491.1" font-size="7.3" text-anchor="end" font-weight="normal" fill="#0d0d0d" font-family='"Liberation Sans","Noto Sans CJK SC",sans-serif' dominant-baseline="central" stroke="#0d0d0d" stroke-width="0.28">100</text>
<text x="417.8" y="511.8" font-size="7.3" text-anchor="end" font-weight="normal" fill="#0d0d0d" font-family='"Liberation Sans","Noto Sans CJK SC",sans-serif' dominant-baseline="central" stroke="#0d0d0d" stroke-width="0.28">90</text>
<text x="417.8" y="533.5" font-size="7.3" text-anchor="end" font-weight="normal" fill="#0d0d0d" font-family='"Liberation Sans","Noto Sans CJK SC",sans-serif' dominant-baseline="central" stroke="#0d0d0d" stroke-width="0.28">80</text>
<text x="420.2" y="562.3" font-size="7.3" text-anchor="middle" font-weight="normal" fill="#0d0d0d" font-family='"Liberation Sans","Noto Sans CJK SC",sans-serif' dominant-baseline="central" stroke="#0d0d0d" stroke-width="0.28">-5</text>
<text x="433.3" y="562.3" font-size="7.3" text-anchor="middle" font-weight="normal" fill="#0d0d0d" font-family='"Liberation Sans","Noto Sans CJK SC",sans-serif' dominant-baseline="central" stroke="#0d0d0d" stroke-width="0.28">0</text>
<text x="453.3" y="562.3" font-size="7.3" text-anchor="middle" font-weight="normal" fill="#0d0d0d" font-family='"Liberation Sans","Noto Sans CJK SC",sans-serif' dominant-baseline="central" stroke="#0d0d0d" stroke-width="0.28">10</text>
<text x="476.3" y="562.3" font-size="7.3" text-anchor="middle" font-weight="normal" fill="#0d0d0d" font-family='"Liberation Sans","Noto Sans CJK SC",sans-serif' dominant-baseline="central" stroke="#0d0d0d" stroke-width="0.28">20</text>
<text x="498.7" y="562.3" font-size="7.3" text-anchor="middle" font-weight="normal" fill="#0d0d0d" font-family='"Liberation Sans","Noto Sans CJK SC",sans-serif' dominant-baseline="central" stroke="#0d0d0d" stroke-width="0.28">30</text>
<text x="518.6" y="562.3" font-size="7.3" text-anchor="middle" font-weight="normal" fill="#0d0d0d" font-family='"Liberation Sans","Noto Sans CJK SC",sans-serif' dominant-baseline="central" stroke="#0d0d0d" stroke-width="0.28">40</text>
<text x="540.7" y="562.3" font-size="7.3" text-anchor="middle" font-weight="normal" fill="#0d0d0d" font-family='"Liberation Sans","Noto Sans CJK SC",sans-serif' dominant-baseline="central" stroke="#0d0d0d" stroke-width="0.28">50</text>
<text x="563" y="562.3" font-size="7.3" text-anchor="middle" font-weight="normal" fill="#0d0d0d" font-family='"Liberation Sans","Noto Sans CJK SC",sans-serif' dominant-baseline="central" stroke="#0d0d0d" stroke-width="0.28">60</text>
<text x="387.6" y="473.7" font-size="7" text-anchor="middle" font-weight="bold" fill="#0d0d0d" font-family='"Noto Sans CJK SC","Liberation Sans",sans-serif' dominant-baseline="central">额</text>
<text x="387.6" y="484.8" font-size="7" text-anchor="middle" font-weight="bold" fill="#0d0d0d" font-family='"Noto Sans CJK SC","Liberation Sans",sans-serif' dominant-baseline="central">定</text>
<text x="387.6" y="495.9" font-size="7" text-anchor="middle" font-weight="bold" fill="#0d0d0d" font-family='"Noto Sans CJK SC","Liberation Sans",sans-serif' dominant-baseline="central">电</text>
<text x="387.6" y="507" font-size="7" text-anchor="middle" font-weight="bold" fill="#0d0d0d" font-family='"Noto Sans CJK SC","Liberation Sans",sans-serif' dominant-baseline="central">流</text>
<text x="387.6" y="518.1" font-size="7" text-anchor="middle" font-weight="bold" fill="#0d0d0d" font-family='"Liberation Sans","Noto Sans CJK SC",sans-serif' dominant-baseline="central">(%)</text>
<text x="486" y="577" font-size="7" text-anchor="middle" font-weight="500" fill="#0d0d0d" font-family='"Noto Sans CJK SC","Liberation Sans",sans-serif' dominant-baseline="central">周围温度(℃)</text>
<rect x="411.9" y="688" width="138.9" height="134.4" fill="#eaf6fc"/>
<path d="M411.9 688V822.4M423.1 688V822.4M434.6 688V822.4M444.6 688V822.4M455 688V822.4M466.5 688V822.4M476.7 688V822.4M487.6 688V822.4M498.2 688V822.4M508.9 688V822.4M519.1 688V822.4M530.3 688V822.4M541 688V822.4M550.8 688V822.4M411.9 688H550.8M411.9 699.6H550.8M411.9 710.6H550.8M411.9 721.4H550.8M411.9 732.6H550.8M411.9 743.8H550.8M411.9 754.7H550.8M411.9 766.5H550.8M411.9 779.4H550.8M411.9 790.2H550.8M411.9 799.8H550.8M411.9 811.2H550.8M411.9 822.4H550.8" stroke="#ffffff" stroke-width="3.4" opacity="0.75" fill="none"/>
<path d="M411.9 688V822.4M423.1 688V822.4M434.6 688V822.4M444.6 688V822.4M455 688V822.4M466.5 688V822.4M476.7 688V822.4M487.6 688V822.4M498.2 688V822.4M508.9 688V822.4M519.1 688V822.4M530.3 688V822.4M541 688V822.4M550.8 688V822.4M411.9 688H550.8M411.9 699.6H550.8M411.9 710.6H550.8M411.9 721.4H550.8M411.9 732.6H550.8M411.9 743.8H550.8M411.9 754.7H550.8M411.9 766.5H550.8M411.9 779.4H550.8M411.9 790.2H550.8M411.9 799.8H550.8M411.9 811.2H550.8M411.9 822.4H550.8" stroke="#3a3d41" stroke-width="1.12" fill="none" stroke-linecap="square"/>
<path d="M411.9 724.3 C413.77 724.43 419.32 724.63 423.1 725.1 C426.88 725.57 431.02 726.38 434.6 727.1 C438.18 727.82 441.2 728.55 444.6 729.4 C448 730.25 451.37 731.28 455 732.2 C458.63 733.12 462.77 733.8 466.4 734.9 C470.03 736 473.3 737.42 476.8 738.8 C480.3 740.18 483.87 741.7 487.4 743.2 C490.93 744.7 494.43 745.93 498 747.8 C501.57 749.67 505.3 752.25 508.8 754.4 C512.3 756.55 516.47 758.77 519 760.7 C521.53 762.63 522.13 763.98 524 766 C525.87 768.02 528.23 770.58 530.2 772.8 C532.17 775.02 534.12 776.9 535.8 779.3 C537.48 781.7 538.85 784.55 540.3 787.2 C541.75 789.85 542.8 791.77 544.5 795.2 C546.2 798.63 549.5 805.7 550.5 807.8" stroke="#229868" stroke-width="1.5" fill="none" stroke-linejoin="round"/>
<text x="408.6" y="685.7" font-size="7.3" text-anchor="end" font-weight="normal" fill="#0d0d0d" font-family='"Liberation Sans","Noto Sans CJK SC",sans-serif' dominant-baseline="central" stroke="#0d0d0d" stroke-width="0.28">130</text>
<text x="408.6" y="710.2" font-size="7.3" text-anchor="end" font-weight="normal" fill="#0d0d0d" font-family='"Liberation Sans","Noto Sans CJK SC",sans-serif' dominant-baseline="central" stroke="#0d0d0d" stroke-width="0.28">120</text>
<text x="408.6" y="732.1" font-size="7.3" text-anchor="end" font-weight="normal" fill="#0d0d0d" font-family='"Liberation Sans","Noto Sans CJK SC",sans-serif' dominant-baseline="central" stroke="#0d0d0d" stroke-width="0.28">110</text>
<text x="408.6" y="754.2" font-size="7.3" text-anchor="end" font-weight="normal" fill="#0d0d0d" font-family='"Liberation Sans","Noto Sans CJK SC",sans-serif' dominant-baseline="central" stroke="#0d0d0d" stroke-width="0.28">100</text>
<text x="408.6" y="777" font-size="7.3" text-anchor="end" font-weight="normal" fill="#0d0d0d" font-family='"Liberation Sans","Noto Sans CJK SC",sans-serif' dominant-baseline="central" stroke="#0d0d0d" stroke-width="0.28">90</text>
<text x="408.6" y="798.7" font-size="7.3" text-anchor="end" font-weight="normal" fill="#0d0d0d" font-family='"Liberation Sans","Noto Sans CJK SC",sans-serif' dominant-baseline="central" stroke="#0d0d0d" stroke-width="0.28">80</text>
<text x="410.5" y="828.3" font-size="7.3" text-anchor="middle" font-weight="normal" fill="#0d0d0d" font-family='"Liberation Sans","Noto Sans CJK SC",sans-serif' dominant-baseline="central" stroke="#0d0d0d" stroke-width="0.28">-5</text>
<text x="422.5" y="828.3" font-size="7.3" text-anchor="middle" font-weight="normal" fill="#0d0d0d" font-family='"Liberation Sans","Noto Sans CJK SC",sans-serif' dominant-baseline="central" stroke="#0d0d0d" stroke-width="0.28">0</text>
<text x="442.8" y="828.3" font-size="7.3" text-anchor="middle" font-weight="normal" fill="#0d0d0d" font-family='"Liberation Sans","Noto Sans CJK SC",sans-serif' dominant-baseline="central" stroke="#0d0d0d" stroke-width="0.28">10</text>
<text x="466" y="828.3" font-size="7.3" text-anchor="middle" font-weight="normal" fill="#0d0d0d" font-family='"Liberation Sans","Noto Sans CJK SC",sans-serif' dominant-baseline="central" stroke="#0d0d0d" stroke-width="0.28">20</text>
<text x="487.8" y="828.3" font-size="7.3" text-anchor="middle" font-weight="normal" fill="#0d0d0d" font-family='"Liberation Sans","Noto Sans CJK SC",sans-serif' dominant-baseline="central" stroke="#0d0d0d" stroke-width="0.28">30</text>
<text x="507.3" y="828.3" font-size="7.3" text-anchor="middle" font-weight="normal" fill="#0d0d0d" font-family='"Liberation Sans","Noto Sans CJK SC",sans-serif' dominant-baseline="central" stroke="#0d0d0d" stroke-width="0.28">40</text>
<text x="528.7" y="828.3" font-size="7.3" text-anchor="middle" font-weight="normal" fill="#0d0d0d" font-family='"Liberation Sans","Noto Sans CJK SC",sans-serif' dominant-baseline="central" stroke="#0d0d0d" stroke-width="0.28">50</text>
<text x="551" y="828.3" font-size="7.3" text-anchor="middle" font-weight="normal" fill="#0d0d0d" font-family='"Liberation Sans","Noto Sans CJK SC",sans-serif' dominant-baseline="central" stroke="#0d0d0d" stroke-width="0.28">60</text>
<text x="387.4" y="735.5" font-size="7" text-anchor="middle" font-weight="bold" fill="#0d0d0d" font-family='"Noto Sans CJK SC","Liberation Sans",sans-serif' dominant-baseline="central">额</text>
<text x="387.4" y="746.9" font-size="7" text-anchor="middle" font-weight="bold" fill="#0d0d0d" font-family='"Noto Sans CJK SC","Liberation Sans",sans-serif' dominant-baseline="central">定</text>
<text x="387.4" y="758.3" font-size="7" text-anchor="middle" font-weight="bold" fill="#0d0d0d" font-family='"Noto Sans CJK SC","Liberation Sans",sans-serif' dominant-baseline="central">电</text>
<text x="387.4" y="769.7" font-size="7" text-anchor="middle" font-weight="bold" fill="#0d0d0d" font-family='"Noto Sans CJK SC","Liberation Sans",sans-serif' dominant-baseline="central">流</text>
<text x="387.4" y="781.1" font-size="7" text-anchor="middle" font-weight="bold" fill="#0d0d0d" font-family='"Liberation Sans","Noto Sans CJK SC",sans-serif' dominant-baseline="central">(%)</text>
<text x="482.2" y="844.7" font-size="7" text-anchor="middle" font-weight="500" fill="#0d0d0d" font-family='"Noto Sans CJK SC","Liberation Sans",sans-serif' dominant-baseline="central">周围温度(℃)</text>
<ellipse cx="551.7" cy="242.8" rx="0.85" ry="1.3" fill="#1e2226"/>
<ellipse cx="562.1" cy="517.8" rx="0.85" ry="1.3" fill="#1e2226"/>
<ellipse cx="550.8" cy="782.4" rx="0.85" ry="1.3" fill="#1e2226"/>
</svg>
</body></html>
